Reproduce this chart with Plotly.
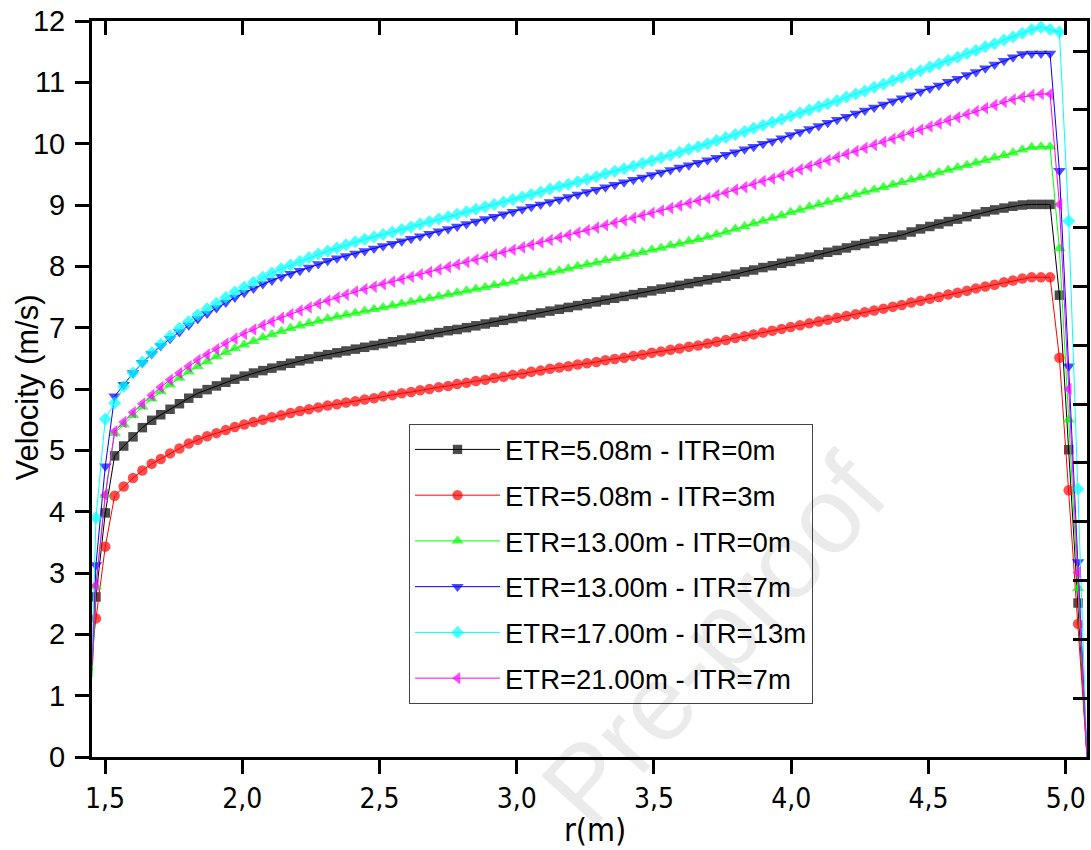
import plotly.graph_objects as go

# ---------------- data ----------------
r = [1.4526,
     1.467, 1.501, 1.535, 1.568, 1.602, 1.636, 1.670, 1.703, 1.737, 1.771, 1.805, 1.838,
     1.872, 1.906, 1.940, 1.973, 2.007, 2.041, 2.075, 2.108, 2.142, 2.176, 2.210, 2.243,
     2.277, 2.311, 2.345, 2.378, 2.412, 2.446, 2.480, 2.513, 2.547, 2.581, 2.615, 2.648,
     2.682, 2.716, 2.750, 2.783, 2.817, 2.851, 2.885, 2.918, 2.952, 2.986, 3.020, 3.053,
     3.087, 3.121, 3.155, 3.188, 3.222, 3.256, 3.290, 3.323, 3.357, 3.391, 3.425, 3.458,
     3.492, 3.526, 3.560, 3.593, 3.627, 3.661, 3.695, 3.728, 3.762, 3.796, 3.830, 3.863,
     3.897, 3.931, 3.965, 3.998, 4.032, 4.066, 4.100, 4.133, 4.167, 4.201, 4.235, 4.268,
     4.302, 4.336, 4.370, 4.403, 4.437, 4.471, 4.505, 4.538, 4.572, 4.606, 4.640, 4.673,
     4.707, 4.741, 4.775, 4.808, 4.842, 4.876, 4.910, 4.943, 4.977, 5.011, 5.045,
     5.0776]

v_etr508_itr0 = [1.40,
    2.61, 3.98, 4.91, 5.07, 5.22, 5.37, 5.49, 5.58, 5.67, 5.76, 5.85, 5.93,
    5.99, 6.05, 6.11, 6.16, 6.21, 6.26, 6.30, 6.34, 6.38, 6.42, 6.46, 6.49,
    6.53, 6.56, 6.59, 6.62, 6.65, 6.68, 6.71, 6.74, 6.77, 6.80, 6.83, 6.86,
    6.89, 6.92, 6.95, 6.97, 7.00, 7.03, 7.06, 7.09, 7.12, 7.15, 7.18, 7.21,
    7.24, 7.27, 7.30, 7.33, 7.36, 7.39, 7.42, 7.45, 7.48, 7.51, 7.54, 7.57,
    7.60, 7.63, 7.66, 7.69, 7.72, 7.75, 7.78, 7.81, 7.84, 7.87, 7.91, 7.94,
    7.98, 8.01, 8.05, 8.08, 8.12, 8.15, 8.19, 8.23, 8.26, 8.30, 8.34, 8.37,
    8.41, 8.45, 8.48, 8.51, 8.56, 8.61, 8.65, 8.69, 8.73, 8.77, 8.81, 8.85,
    8.89, 8.92, 8.95, 8.98, 9.00, 9.01, 9.01, 9.01, 7.53, 5.01, 2.51,
    0.0]

v_etr508_itr3 = [1.75,
    2.26, 3.43, 4.26, 4.41, 4.55, 4.67, 4.78, 4.86, 4.95, 5.03, 5.11, 5.17,
    5.23, 5.28, 5.33, 5.38, 5.42, 5.46, 5.50, 5.54, 5.57, 5.61, 5.64, 5.67,
    5.70, 5.73, 5.75, 5.78, 5.80, 5.83, 5.85, 5.88, 5.90, 5.93, 5.95, 5.98,
    6.00, 6.03, 6.05, 6.08, 6.10, 6.13, 6.15, 6.18, 6.20, 6.23, 6.25, 6.28,
    6.30, 6.33, 6.35, 6.37, 6.40, 6.42, 6.44, 6.47, 6.49, 6.51, 6.54, 6.56,
    6.59, 6.61, 6.64, 6.66, 6.69, 6.71, 6.74, 6.77, 6.80, 6.83, 6.86, 6.89,
    6.92, 6.95, 6.98, 7.01, 7.04, 7.07, 7.10, 7.13, 7.16, 7.19, 7.22, 7.25,
    7.28, 7.31, 7.34, 7.37, 7.41, 7.44, 7.47, 7.50, 7.54, 7.57, 7.60, 7.64,
    7.67, 7.70, 7.74, 7.77, 7.80, 7.82, 7.82, 7.82, 6.51, 4.35, 2.17,
    0.0]

v_etr13_itr0 = [1.30,
    2.78, 4.27, 5.28, 5.42, 5.57, 5.71, 5.84, 5.96, 6.07, 6.18, 6.28, 6.37,
    6.45, 6.53, 6.60, 6.66, 6.72, 6.78, 6.84, 6.89, 6.94, 6.99, 7.03, 7.07,
    7.11, 7.15, 7.18, 7.21, 7.24, 7.27, 7.30, 7.33, 7.36, 7.39, 7.42, 7.45,
    7.48, 7.51, 7.54, 7.57, 7.60, 7.63, 7.66, 7.69, 7.72, 7.75, 7.80, 7.83,
    7.86, 7.90, 7.93, 7.96, 8.00, 8.03, 8.06, 8.10, 8.13, 8.16, 8.20, 8.23,
    8.27, 8.30, 8.34, 8.37, 8.41, 8.44, 8.48, 8.52, 8.56, 8.61, 8.65, 8.70,
    8.74, 8.79, 8.83, 8.88, 8.92, 8.97, 9.01, 9.05, 9.09, 9.13, 9.17, 9.21,
    9.25, 9.29, 9.33, 9.37, 9.41, 9.45, 9.49, 9.53, 9.57, 9.61, 9.65, 9.69,
    9.73, 9.77, 9.81, 9.85, 9.90, 9.94, 9.95, 9.95, 8.29, 5.50, 2.75,
    0.0]

v_etr13_itr7 = [1.50,
    3.13, 4.74, 5.88, 6.07, 6.26, 6.43, 6.57, 6.70, 6.82, 6.93, 7.04, 7.14,
    7.23, 7.32, 7.41, 7.49, 7.57, 7.64, 7.71, 7.77, 7.83, 7.88, 7.93, 7.98,
    8.04, 8.09, 8.13, 8.17, 8.21, 8.25, 8.29, 8.33, 8.37, 8.41, 8.45, 8.49,
    8.53, 8.57, 8.61, 8.65, 8.69, 8.73, 8.77, 8.81, 8.85, 8.89, 8.93, 8.97,
    9.01, 9.05, 9.09, 9.13, 9.17, 9.21, 9.25, 9.29, 9.33, 9.37, 9.41, 9.45,
    9.49, 9.53, 9.57, 9.61, 9.65, 9.69, 9.73, 9.77, 9.82, 9.86, 9.91, 9.95,
    10.00, 10.04, 10.09, 10.14, 10.19, 10.24, 10.29, 10.34, 10.39, 10.44, 10.49, 10.54,
    10.59, 10.64, 10.69, 10.74, 10.79, 10.85, 10.90, 10.95, 11.01, 11.06, 11.12, 11.17,
    11.23, 11.29, 11.35, 11.41, 11.46, 11.47, 11.47, 11.47, 9.56, 6.37, 3.18,
    0.0]

v_etr17_itr13 = [1.60,
    3.90, 5.51, 5.77, 6.04, 6.26, 6.44, 6.59, 6.73, 6.86, 6.99, 7.10, 7.21,
    7.31, 7.40, 7.49, 7.58, 7.66, 7.74, 7.82, 7.89, 7.96, 8.02, 8.08, 8.14,
    8.20, 8.25, 8.30, 8.35, 8.40, 8.44, 8.48, 8.52, 8.56, 8.60, 8.64, 8.69,
    8.73, 8.77, 8.81, 8.85, 8.89, 8.93, 8.97, 9.01, 9.05, 9.09, 9.13, 9.17,
    9.21, 9.26, 9.30, 9.34, 9.38, 9.42, 9.46, 9.51, 9.55, 9.59, 9.63, 9.68,
    9.72, 9.77, 9.81, 9.86, 9.91, 9.95, 10.00, 10.05, 10.10, 10.15, 10.20, 10.25,
    10.30, 10.35, 10.40, 10.45, 10.50, 10.55, 10.60, 10.65, 10.70, 10.76, 10.81, 10.86,
    10.92, 10.97, 11.03, 11.08, 11.14, 11.19, 11.25, 11.30, 11.36, 11.41, 11.47, 11.52,
    11.58, 11.63, 11.69, 11.74, 11.80, 11.86, 11.90, 11.86, 11.82, 8.74, 4.37,
    0.0]

v_etr21_itr7 = [1.50,
    2.80, 4.27, 5.31, 5.46, 5.62, 5.76, 5.90, 6.03, 6.15, 6.26, 6.37, 6.47,
    6.56, 6.65, 6.74, 6.82, 6.90, 6.97, 7.04, 7.10, 7.16, 7.22, 7.28, 7.33,
    7.39, 7.44, 7.49, 7.54, 7.59, 7.63, 7.67, 7.71, 7.75, 7.79, 7.83, 7.87,
    7.91, 7.95, 7.99, 8.03, 8.07, 8.11, 8.15, 8.19, 8.23, 8.27, 8.31, 8.35,
    8.39, 8.43, 8.47, 8.51, 8.55, 8.59, 8.63, 8.67, 8.71, 8.75, 8.79, 8.83,
    8.87, 8.91, 8.95, 8.99, 9.03, 9.07, 9.11, 9.16, 9.20, 9.25, 9.29, 9.34,
    9.39, 9.43, 9.48, 9.53, 9.58, 9.63, 9.68, 9.73, 9.78, 9.83, 9.88, 9.93,
    9.98, 10.03, 10.08, 10.13, 10.18, 10.23, 10.28, 10.33, 10.38, 10.43, 10.48, 10.53,
    10.58, 10.63, 10.68, 10.72, 10.76, 10.79, 10.81, 10.81, 9.01, 6.00, 3.01,
    0.0]

series_names = ["ETR=5.08m - ITR=0m", "ETR=5.08m - ITR=3m", "ETR=13.00m - ITR=0m",
                "ETR=13.00m - ITR=7m", "ETR=17.00m - ITR=13m", "ETR=21.00m - ITR=7m"]
series_values = [v_etr508_itr0, v_etr508_itr3, v_etr13_itr0,
                 v_etr13_itr7, v_etr17_itr13, v_etr21_itr7]

x_tickvals = [1.5, 2.0, 2.5, 3.0, 3.5, 4.0, 4.5, 5.0]
x_ticktext = ["1,5", "2,0", "2,5", "3,0", "3,5", "4,0", "4,5", "5,0"]
y_tickvals = [0, 1, 2, 3, 4, 5, 6, 7, 8, 9, 10, 11, 12]
y_ticktext = ["0", "1", "2", "3", "4", "5", "6", "7", "8", "9", "10", "11", "12"]

# ---------------- styles ----------------
colors = ["#000000", "#ff0000", "#00ff00", "#0000ff", "#00ffff", "#ff00ff"]
symbols = ["square", "circle", "triangle-up", "triangle-down", "diamond", "triangle-left"]
msizes = [9.5, 10.5, 11, 11, 10, 11]

FONT = "Arial, Liberation Sans, sans-serif"
NARROW = "Liberation Sans Narrow, Arial Narrow, DejaVu Sans Condensed, Arial, Liberation Sans, sans-serif"

fig = go.Figure()
for name, vals, c, s, ms in zip(series_names, series_values, colors, symbols, msizes):
    assert len(vals) == len(r), (name, len(vals), len(r))
    sizes = [0] + [ms] * (len(r) - 2) + [0]
    fig.add_trace(go.Scatter(
        x=r, y=vals, mode="lines+markers", name=name, legendgroup=name,
        line=dict(color=c, width=1),
        marker=dict(symbol=s, size=sizes, color=c, line=dict(width=0)),
    ))

# empty trace so the mirrored top / right axes are drawn
fig.add_trace(go.Scatter(x=[], y=[], xaxis="x2", yaxis="y2", showlegend=False,
                         hoverinfo="skip"))

axis_common = dict(showline=True, linewidth=3, linecolor="black", showgrid=False,
                   zeroline=False, tickwidth=3, tickcolor="black", ticklen=14)

fig.update_layout(
    width=1091, height=850,
    margin=dict(l=92, r=4, t=21, b=93, pad=0),
    paper_bgcolor="white", plot_bgcolor="white",
    showlegend=True,
    xaxis=dict(range=[1.4526, 5.0776], tickmode="array", tickvals=x_tickvals,
               ticktext=x_ticktext, ticks="outside",
               tickfont=dict(family=NARROW, size=28, color="black"), **axis_common),
    yaxis=dict(range=[0, 12], tickmode="array", tickvals=y_tickvals, ticktext=y_ticktext,
               ticks="outside", ticklabelstandoff=4,
               tickfont=dict(family=FONT, size=29, color="black"), **axis_common),
    xaxis2=dict(overlaying="x", side="top", anchor="y2", range=[1.4526, 5.0776],
                tickmode="array", tickvals=x_tickvals, ticks="inside",
                showticklabels=False, **axis_common),
    yaxis2=dict(overlaying="y", side="right", anchor="x2", range=[0, 12.51],
                tickmode="array", tickvals=y_tickvals, ticks="inside",
                showticklabels=False, **axis_common),
    legend=dict(x=0.3186, y=0.4524, xanchor="left", yanchor="top",
                bgcolor="white", bordercolor="#444444", borderwidth=1,
                font=dict(family=FONT, size=27.5, color="black"),
                itemwidth=85, tracegroupgap=7, traceorder="grouped"),
    annotations=[
        dict(text="Velocity (m/s)", xref="paper", yref="paper", x=-0.0648, y=0.5014,
             textangle=-90, showarrow=False, xanchor="center", yanchor="middle",
             font=dict(family=FONT, size=31, color="black")),
        dict(text="r(m)", xref="paper", yref="paper", x=0.5055, y=-0.0992,
             showarrow=False, xanchor="center", yanchor="middle",
             font=dict(family=NARROW, size=32, color="black")),
        dict(text="Pre-proof", xref="paper", yref="paper", x=0.625, y=0.16,
             textangle=-48, showarrow=False, xanchor="center", yanchor="middle",
             font=dict(family=FONT, size=108, color="rgba(0,0,0,0.08)")),
    ],
)

fig.write_html("out.html",
               config={"displayModeBar": False},
               post_script="document.body.style.margin='0';"
                           "document.body.style.overflow='hidden';")
